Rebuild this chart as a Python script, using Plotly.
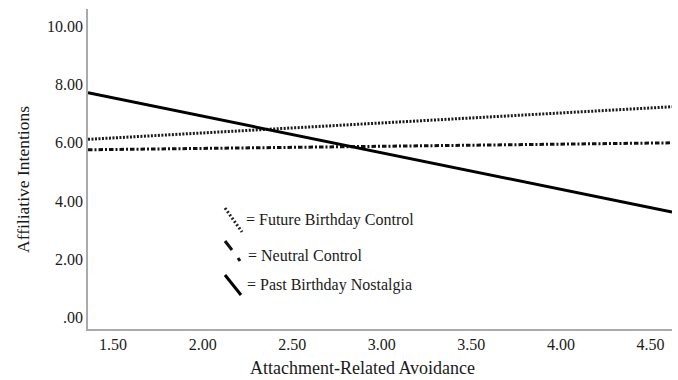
import plotly.graph_objects as go

# Data (regression lines)
x_ends = [1.36, 4.62]
future_birthday = [6.12, 7.24]
neutral_control = [5.76, 6.0]
past_nostalgia = [7.72, 3.62]
x_ticks = [1.5, 2.0, 2.5, 3.0, 3.5, 4.0, 4.5]
x_tick_labels = ["1.50", "2.00", "2.50", "3.00", "3.50", "4.00", "4.50"]
y_ticks = [0, 2, 4, 6, 8, 10]
y_tick_labels = [".00", "2.00", "4.00", "6.00", "8.00", "10.00"]
legend_labels = ["= Future Birthday Control", "= Neutral Control", "= Past Birthday Nostalgia"]
x_title = "Attachment-Related Avoidance"
y_title = "Affiliative Intentions"

FONT = "Liberation Serif"
DOT = "2px,1.5px"
DASHDOT = "4.5px,2px,2px,2px"
fig = go.Figure()
fig.add_trace(go.Scatter(x=x_ends, y=future_birthday, mode="lines",
                         line=dict(color="#1a1a1a", width=3, dash=DOT), showlegend=False))
fig.add_trace(go.Scatter(x=x_ends, y=neutral_control, mode="lines",
                         line=dict(color="#111", width=3, dash=DASHDOT), showlegend=False))
fig.add_trace(go.Scatter(x=x_ends, y=past_nostalgia, mode="lines",
                         line=dict(color="#000", width=3), showlegend=False))

W, H = 678, 380
L, R, T, B = 88, 6, 9, 51
pw, ph = W - L - R, H - T - B

def px(x):
    return (x - L) / pw

def py(y):
    return 1 - (y - T) / ph

shapes = [
    dict(type="line", xref="paper", yref="paper", x0=px(225), y0=py(208), x1=px(242), y1=py(232),
         line=dict(color="#222", width=3, dash="2px,2px")),
    dict(type="line", xref="paper", yref="paper", x0=px(225), y0=py(241), x1=px(232), y1=py(250),
         line=dict(color="#111", width=3)),
    dict(type="line", xref="paper", yref="paper", x0=px(238), y0=py(258), x1=px(240), y1=py(261),
         line=dict(color="#111", width=3)),
    dict(type="line", xref="paper", yref="paper", x0=px(225), y0=py(275), x1=px(241), y1=py(295),
         line=dict(color="#000", width=3)),
]
ann_pos = [(244, 220), (246, 255), (245, 285)]
annotations = []
for (ax_, ay_), lab in zip(ann_pos, legend_labels):
    annotations.append(dict(xref="paper", yref="paper", x=px(ax_), y=py(ay_), text=lab,
                            showarrow=False, xanchor="left", yanchor="middle",
                            font=dict(family=FONT, size=16, color="#1a1a1a")))
annotations.append(dict(xref="paper", yref="paper", x=px(362), y=py(368), text=x_title,
                        showarrow=False, xanchor="center", yanchor="middle",
                        font=dict(family=FONT, size=18, color="#1a1a1a")))
annotations.append(dict(xref="paper", yref="paper", x=px(23), y=py(180), text=y_title,
                        showarrow=False, xanchor="center", yanchor="middle", textangle=-90,
                        font=dict(family=FONT, size=17.5, color="#1a1a1a")))

fig.update_layout(
    width=W, height=H, margin=dict(l=L, r=R, t=T, b=B),
    paper_bgcolor="white", plot_bgcolor="white",
    shapes=shapes, annotations=annotations,
    font=dict(family=FONT, color="#1a1a1a"),
    xaxis=dict(range=[1.36, 4.62], tickvals=x_ticks, ticktext=x_tick_labels,
               showgrid=False, zeroline=False, showline=True, linecolor="#aaa", linewidth=1.5,
               ticks="", tickfont=dict(size=16, family=FONT)),
    yaxis=dict(range=[-0.4, 10.6], tickvals=y_ticks, ticktext=y_tick_labels,
               showgrid=False, zeroline=False, showline=True, linecolor="#aaa", linewidth=1.5,
               ticks="", tickfont=dict(size=16, family=FONT)),
)
fig.write_html("out.html")
